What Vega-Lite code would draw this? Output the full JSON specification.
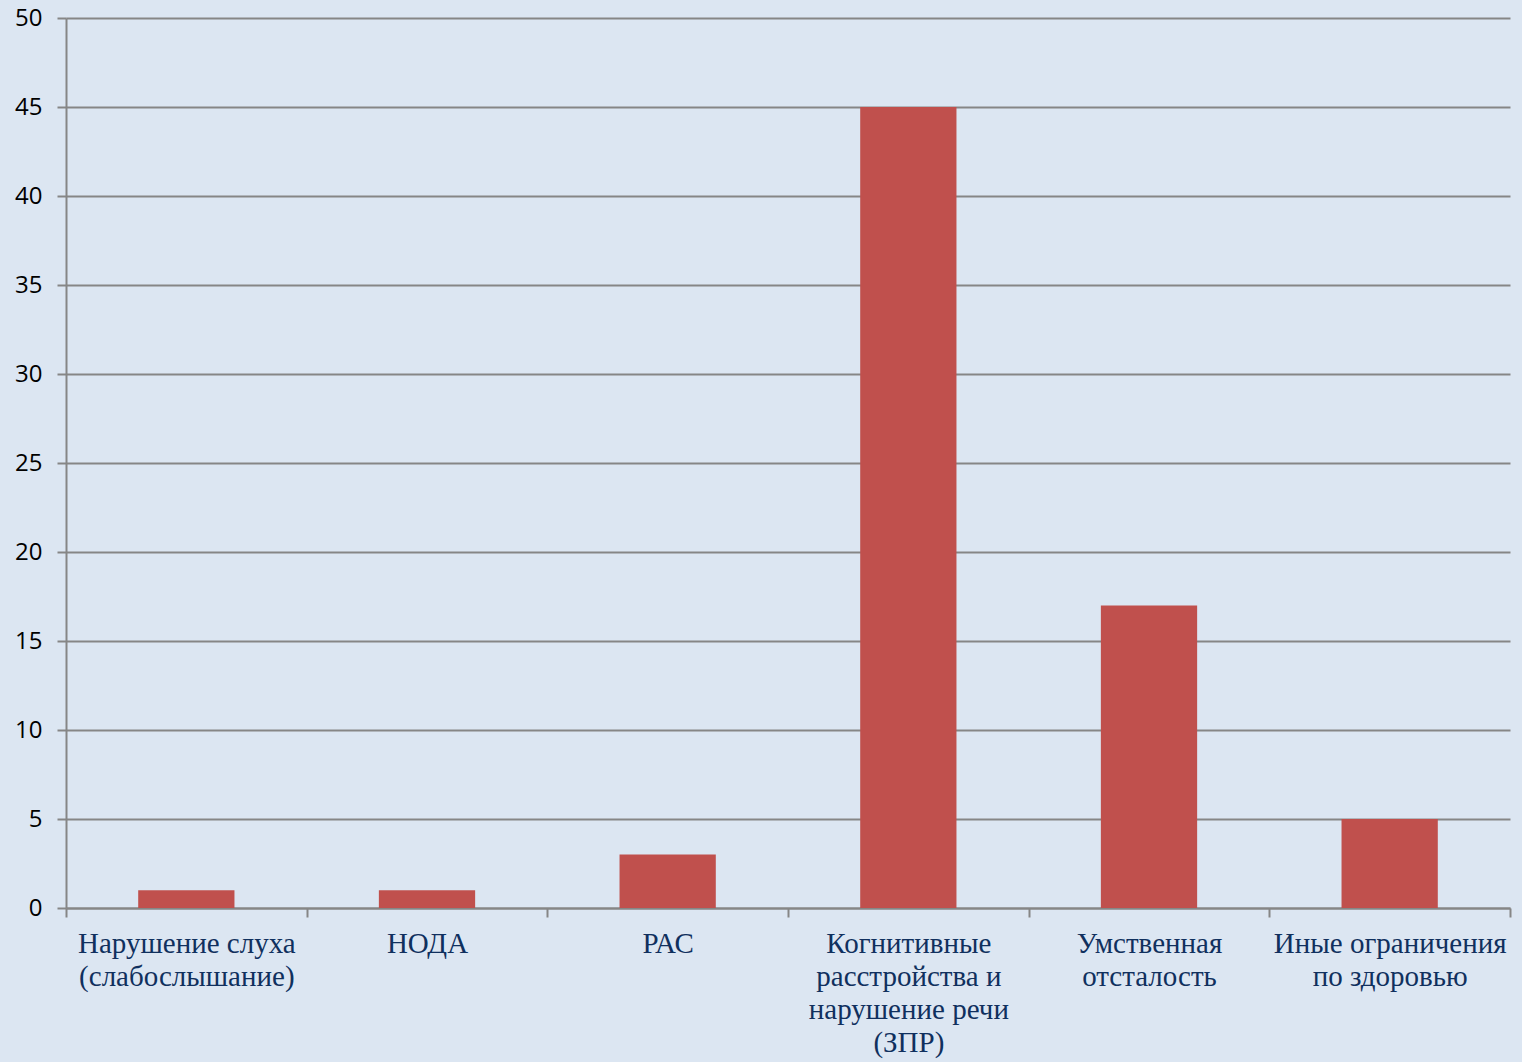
{
  "$schema": "https://vega.github.io/schema/vega-lite/v6.json",
  "width": 1444,
  "height": 890,
  "autosize": "none",
  "padding": {"left": 66, "top": 18, "right": 12, "bottom": 154},
  "background": "#dce6f2",
  "config": {"view": {"stroke": null}},
  "data": {
    "values": [
      {"category": "Нарушение слуха|(слабослышание)", "value": 1},
      {"category": "НОДА", "value": 1},
      {"category": "РАС", "value": 3},
      {"category": "Когнитивные|расстройства и|нарушение речи|(ЗПР)", "value": 45},
      {"category": "Умственная|отсталость", "value": 17},
      {"category": "Иные ограничения|по здоровью", "value": 5}
    ]
  },
  "mark": {"type": "bar", "color": "#c0504d", "width": {"band": 0.4}},
  "encoding": {
    "x": {
      "field": "category",
      "type": "nominal",
      "sort": null,
      "scale": {"paddingInner": 0, "paddingOuter": 0},
      "axis": {
        "title": null,
        "labelAngle": 0,
        "labelExpr": "split(datum.label, '|')",
        "labelFont": "Liberation Serif",
        "labelFontSize": 29,
        "labelLineHeight": 33,
        "labelColor": "#10305e",
        "labelBaseline": "top",
        "labelPadding": 12,
        "labelLimit": 400,
        "tickBand": "extent",
        "tickColor": "#868686",
        "tickWidth": 2,
        "tickSize": 9,
        "domainColor": "#868686",
        "domainWidth": 2,
        "grid": false
      }
    },
    "y": {
      "field": "value",
      "type": "quantitative",
      "scale": {"domain": [0, 50]},
      "axis": {
        "title": null,
        "values": [0, 5, 10, 15, 20, 25, 30, 35, 40, 45, 50],
        "labelFont": "Open Sans",
        "labelFontSize": 24,
        "labelColor": "#000000",
        "labelPadding": 15,
        "tickColor": "#868686",
        "tickWidth": 2,
        "tickSize": 9,
        "domainColor": "#868686",
        "domainWidth": 2,
        "grid": true,
        "gridColor": "#868686",
        "gridWidth": 2
      }
    }
  }
}
